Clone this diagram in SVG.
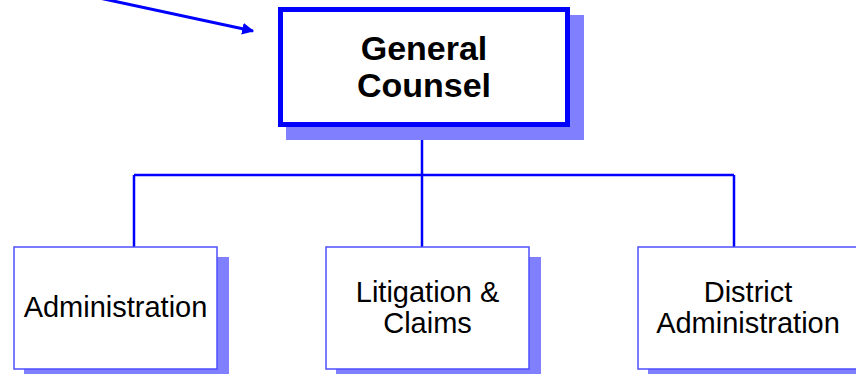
<svg xmlns="http://www.w3.org/2000/svg" width="856" height="375" viewBox="0 0 856 375">
  <style>
    .shadow { fill: #8080ff; }
    .box { fill: #ffffff; stroke: #4f4fff; stroke-width: 1.5; }
    .head { fill: #ffffff; stroke: #0000ff; stroke-width: 5; }
    .wire { fill: none; stroke: #0000ff; stroke-width: 2.5; }
    .label { font-family: "Liberation Sans", Arial, sans-serif; font-size: 29px; fill: #000000; text-anchor: middle; }
    .title { font-family: "Liberation Sans", Arial, sans-serif; font-size: 34px; font-weight: bold; fill: #000000; text-anchor: middle; }
  </style>
  <defs>
    <marker id="tip" viewBox="0 0 10 10" refX="9" refY="5" markerWidth="4" markerHeight="4" orient="auto" markerUnits="strokeWidth">
      <path d="M0,0 L10,5 L0,10 z" fill="#0000ff"/>
    </marker>
  </defs>

  <!-- tree connectors -->
  <g id="connectors">
    <path class="wire" d="M422,127 V175"/>
    <path class="wire" d="M134,175 H734"/>
    <path class="wire" d="M134,175 V247"/>
    <path class="wire" d="M422,175 V247"/>
    <path class="wire" d="M734,175 V247"/>
    <path d="M90,-4 L253,31" fill="none" stroke="#0000ff" stroke-width="3" marker-end="url(#tip)"/>
  </g>

  <g id="general-counsel">
    <rect class="shadow" x="286" y="15" width="298" height="125"/>
    <rect class="head" x="280.5" y="9.5" width="287" height="115"/>
    <text class="title" x="424" y="60">General</text>
    <text class="title" x="424" y="97">Counsel</text>
  </g>

  <g id="administration">
    <rect class="shadow" x="24" y="257" width="205" height="117"/>
    <rect class="box" x="14" y="247" width="203" height="122"/>
    <text class="label" x="115.5" y="317">Administration</text>
  </g>

  <g id="litigation-claims">
    <rect class="shadow" x="336" y="257" width="205" height="117"/>
    <rect class="box" x="326" y="247" width="203" height="122"/>
    <text class="label" x="427.5" y="302">Litigation &amp;</text>
    <text class="label" x="427.5" y="333">Claims</text>
  </g>

  <g id="district-administration">
    <rect class="shadow" x="648" y="257" width="220" height="117"/>
    <rect class="box" x="638" y="247" width="220" height="122"/>
    <text class="label" x="748" y="302">District</text>
    <text class="label" x="748" y="333">Administration</text>
  </g>
</svg>
